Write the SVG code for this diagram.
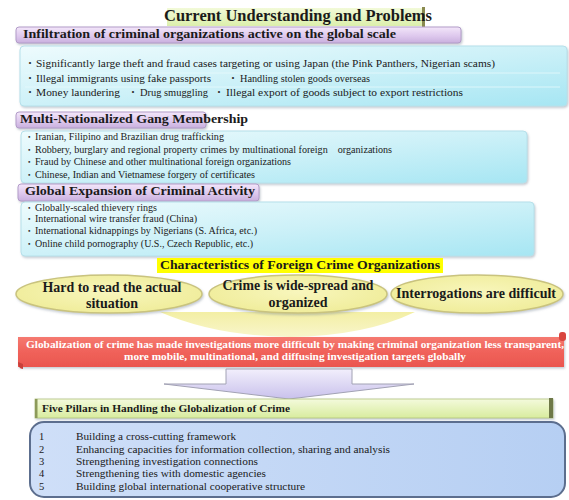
<svg xmlns="http://www.w3.org/2000/svg" width="569" height="500" viewBox="0 0 569 500">
<defs>
<linearGradient id="gPurple" x1="0" y1="0" x2="0" y2="1">
<stop offset="0" stop-color="#f3e6fa"/><stop offset="0.6" stop-color="#dcc6ec"/><stop offset="1" stop-color="#c9b0de"/>
</linearGradient>
<linearGradient id="gCyan" x1="0" y1="0" x2="1" y2="1">
<stop offset="0" stop-color="#eefbfd"/><stop offset="0.5" stop-color="#cdf1f8"/><stop offset="1" stop-color="#a6e6f3"/>
</linearGradient>
<linearGradient id="gTitle" x1="0" y1="0" x2="0" y2="1">
<stop offset="0" stop-color="#f2fad8"/><stop offset="1" stop-color="#dcefac"/>
</linearGradient>
<radialGradient id="gEll" cx="0.5" cy="0.45" r="0.6">
<stop offset="0" stop-color="#f8f6bc"/><stop offset="1" stop-color="#efec98"/>
</radialGradient>
<linearGradient id="gRed" x1="0" y1="0" x2="0" y2="1">
<stop offset="0" stop-color="#f57a70"/><stop offset="0.5" stop-color="#f0625a"/><stop offset="1" stop-color="#ea564f"/>
</linearGradient>
<linearGradient id="gArrow" x1="0" y1="0" x2="0" y2="1">
<stop offset="0" stop-color="#f2effc"/><stop offset="1" stop-color="#c9c1ec"/>
</linearGradient>
<linearGradient id="gGreen" x1="0" y1="0" x2="0" y2="1">
<stop offset="0" stop-color="#f4fadc"/><stop offset="1" stop-color="#d8ec9e"/>
</linearGradient>
<linearGradient id="gBlue" x1="0" y1="0" x2="1" y2="0">
<stop offset="0" stop-color="#cfdff8"/><stop offset="1" stop-color="#b6cff3"/>
</linearGradient>
<linearGradient id="gGlow" x1="0" y1="0" x2="0" y2="1">
<stop offset="0" stop-color="#f1ec94"/><stop offset="1" stop-color="#f7f4c2"/>
</linearGradient>
<filter id="shadow" x="-5%" y="-20%" width="110%" height="150%">
<feDropShadow dx="1" dy="1.5" stdDeviation="1.2" flood-color="#7a8a9a" flood-opacity="0.45"/>
</filter>
</defs>
<style>
text { font-family: "Liberation Serif", "Times New Roman", serif; fill: #1a1a1a; }
.dot { font-family: "Noto Sans CJK JP", sans-serif; fill: #333333; }
.h { font-weight: bold; font-size: 13.5px; }
.b1 { font-size: 10.5px; }
.b2 { font-size: 9.5px; white-space: pre; }
.ell { font-weight: bold; font-size: 14px; text-anchor: middle; }
.red { font-weight: bold; font-size: 10.5px; fill: #ffffff; text-anchor: middle; }
.pl { font-size: 10.5px; }
.hdr { fill: url(#gPurple); stroke: #b29cc8; stroke-width: 1; filter: url(#shadow); }
.cy { fill: url(#gCyan); stroke: #b6e0ea; stroke-width: 1; filter: url(#shadow); }
.stripe { stroke: #e6f9fc; stroke-width: 1; opacity: 0.8; }
</style>
<rect x="0" y="0" width="569" height="500" fill="#ffffff"/>

<g id="title">
<rect x="167" y="8" width="258" height="18" fill="url(#gTitle)"/>
<rect x="422" y="7" width="3" height="20" fill="#8a8a50"/>
<text x="164" y="21" font-size="16" font-weight="bold" textLength="268" lengthAdjust="spacingAndGlyphs">Current Understanding and Problems</text>
</g>

<g id="infiltration">
<rect class="hdr" x="16" y="27" width="445" height="16" rx="3"/>
<text class="h" x="23" y="38" textLength="373" lengthAdjust="spacingAndGlyphs">Infiltration of criminal organizations active on the global scale</text>
<rect class="cy" x="20" y="46" width="547" height="60" rx="4"/>
<line class="stripe" x1="25" y1="73" x2="560" y2="73"/>
<line class="stripe" x1="25" y1="87" x2="560" y2="87"/>
<text class="dot" x="25" y="67" font-size="10">・</text>
<text class="b1" x="36" y="67" textLength="459" lengthAdjust="spacingAndGlyphs">Significantly large theft and fraud cases targeting or using Japan (the Pink Panthers, Nigerian scams)</text>
<text class="dot" x="25" y="82" font-size="10">・</text>
<text class="b1" x="36" y="82" textLength="175" lengthAdjust="spacingAndGlyphs">Illegal immigrants using fake passports</text>
<text class="dot" x="228" y="82" font-size="10">・</text>
<text class="b1" x="240" y="82" textLength="130" lengthAdjust="spacingAndGlyphs">Handling stolen goods overseas</text>
<text class="dot" x="25" y="96" font-size="10">・</text>
<text class="b1" x="36" y="96" textLength="84" lengthAdjust="spacingAndGlyphs">Money laundering</text>
<text class="dot" x="128" y="96" font-size="10">・</text>
<text class="b1" x="140" y="96" textLength="68" lengthAdjust="spacingAndGlyphs">Drug smuggling</text>
<text class="dot" x="214" y="96" font-size="10">・</text>
<text class="b1" x="226" y="96" textLength="237" lengthAdjust="spacingAndGlyphs">Illegal export of goods subject to export restrictions</text>
</g>

<g id="gang">
<rect class="hdr" x="16" y="112" width="190" height="16" rx="3"/>
<text class="h" x="20" y="123" font-size="14" textLength="228" lengthAdjust="spacingAndGlyphs">Multi-Nationalized Gang Membership</text>
<rect class="cy" x="21" y="131" width="506" height="52" rx="4"/>
<text class="dot" x="25" y="140" font-size="8.5">・</text>
<text class="b2" x="35" y="140" textLength="189" lengthAdjust="spacingAndGlyphs">Iranian, Filipino and Brazilian drug trafficking</text>
<text class="dot" x="25" y="153" font-size="8.5">・</text>
<text class="b2" x="35" y="153" textLength="357" lengthAdjust="spacingAndGlyphs">Robbery, burglary and regional property crimes by multinational foreign    organizations</text>
<text class="dot" x="25" y="165" font-size="8.5">・</text>
<text class="b2" x="35" y="165" textLength="256" lengthAdjust="spacingAndGlyphs">Fraud by Chinese and other multinational foreign organizations</text>
<text class="dot" x="25" y="178" font-size="8.5">・</text>
<text class="b2" x="35" y="178" textLength="220" lengthAdjust="spacingAndGlyphs">Chinese, Indian and Vietnamese forgery of certificates</text>
</g>

<g id="expansion">
<rect class="hdr" x="18" y="184" width="241" height="17" rx="3"/>
<text class="h" x="25" y="195" font-size="14" textLength="230" lengthAdjust="spacingAndGlyphs">Global Expansion of Criminal Activity</text>
<rect class="cy" x="21" y="202" width="513" height="54" rx="4"/>
<text class="dot" x="25" y="211" font-size="8.5">・</text>
<text class="b2" x="35" y="211" textLength="122" lengthAdjust="spacingAndGlyphs">Globally-scaled thievery rings</text>
<text class="dot" x="25" y="222" font-size="8.5">・</text>
<text class="b2" x="35" y="222" textLength="162" lengthAdjust="spacingAndGlyphs">International wire transfer fraud (China)</text>
<text class="dot" x="25" y="234" font-size="8.5">・</text>
<text class="b2" x="35" y="234" textLength="222" lengthAdjust="spacingAndGlyphs">International kidnappings by Nigerians (S. Africa, etc.)</text>
<text class="dot" x="25" y="247" font-size="8.5">・</text>
<text class="b2" x="35" y="247" textLength="218" lengthAdjust="spacingAndGlyphs">Online child pornography (U.S., Czech Republic, etc.)</text>
</g>

<g id="characteristics">
<rect x="157" y="258" width="286" height="15" fill="#ffff00"/>
<text x="160" y="269" font-size="13" font-weight="bold" textLength="280" lengthAdjust="spacingAndGlyphs">Characteristics of Foreign Crime Organizations</text>
</g>

<g id="glow">
<path d="M160,312 L415,312 Q365,336 290,337 Q215,336 160,312 Z" fill="url(#gGlow)" opacity="0.85"/>
</g>

<g id="hard">
<ellipse cx="109" cy="294" rx="93" ry="19" fill="url(#gEll)" stroke="#c9c37e" stroke-width="1.5" filter="url(#shadow)"/>
<text class="ell" x="112" y="292" textLength="139" lengthAdjust="spacingAndGlyphs">Hard to read the actual</text>
<text class="ell" x="112" y="308">situation</text>
</g>

<g id="widespread">
<ellipse cx="298" cy="294" rx="89" ry="19" fill="url(#gEll)" stroke="#c9c37e" stroke-width="1.5" filter="url(#shadow)"/>
<text class="ell" x="298" y="290" textLength="151" lengthAdjust="spacingAndGlyphs">Crime is wide-spread and</text>
<text class="ell" x="298" y="307">organized</text>
</g>

<g id="interrogations">
<ellipse cx="477" cy="294" rx="86" ry="19" fill="url(#gEll)" stroke="#c9c37e" stroke-width="1.5" filter="url(#shadow)"/>
<text class="ell" x="476" y="298" textLength="160" lengthAdjust="spacingAndGlyphs">Interrogations are difficult</text>
</g>

<g id="globalization">
<rect x="18" y="337" width="546" height="30" fill="url(#gRed)" filter="url(#shadow)"/>
<rect x="559" y="332" width="7" height="9" rx="3" fill="#d9463f"/>
<path d="M18,362 q0,7 5,7 l0,-5 z" fill="#c9403a"/>
<text class="red" x="295" y="348" textLength="538" lengthAdjust="spacingAndGlyphs">Globalization of crime has made investigations more difficult by making criminal organization less transparent,</text>
<text class="red" x="295" y="360" textLength="342" lengthAdjust="spacingAndGlyphs">more mobile, multinational, and diffusing investigation targets globally</text>
</g>

<g id="connectors">
<path d="M226,369 L352,369 L352,384 L414,384 L289,399 L164,384 L226,384 Z" fill="url(#gArrow)" stroke="#a2a2b4" stroke-width="1"/>
</g>

<g id="pillars-header">
<rect x="35" y="399" width="518" height="19" fill="url(#gGreen)" stroke="#b2c27e" stroke-width="0.8" filter="url(#shadow)"/>
<rect x="35" y="399" width="2.5" height="19" fill="#8c9a5a"/>
<rect x="549" y="398" width="4" height="20" fill="#6e7848"/>
<text x="42" y="412" font-size="10.5" font-weight="bold" textLength="248" lengthAdjust="spacingAndGlyphs">Five Pillars in Handling the Globalization of Crime</text>
</g>

<g id="pillars">
<rect x="30" y="422" width="535" height="75" rx="14" fill="url(#gBlue)" stroke="#5c6e8e" stroke-width="2"/>
<text class="pl" x="39" y="440">1</text><text class="pl" x="76" y="440" textLength="160" lengthAdjust="spacingAndGlyphs">Building a cross-cutting framework</text>
<text class="pl" x="39" y="453">2</text><text class="pl" x="76" y="453" textLength="314" lengthAdjust="spacingAndGlyphs">Enhancing capacities for information collection, sharing and analysis</text>
<text class="pl" x="39" y="465">3</text><text class="pl" x="76" y="465" textLength="182" lengthAdjust="spacingAndGlyphs">Strengthening investigation connections</text>
<text class="pl" x="39" y="477">4</text><text class="pl" x="76" y="477" textLength="190" lengthAdjust="spacingAndGlyphs">Strengthening ties with domestic agencies</text>
<text class="pl" x="39" y="490">5</text><text class="pl" x="76" y="490" textLength="229" lengthAdjust="spacingAndGlyphs">Building global international cooperative structure</text>
</g>
</svg>
